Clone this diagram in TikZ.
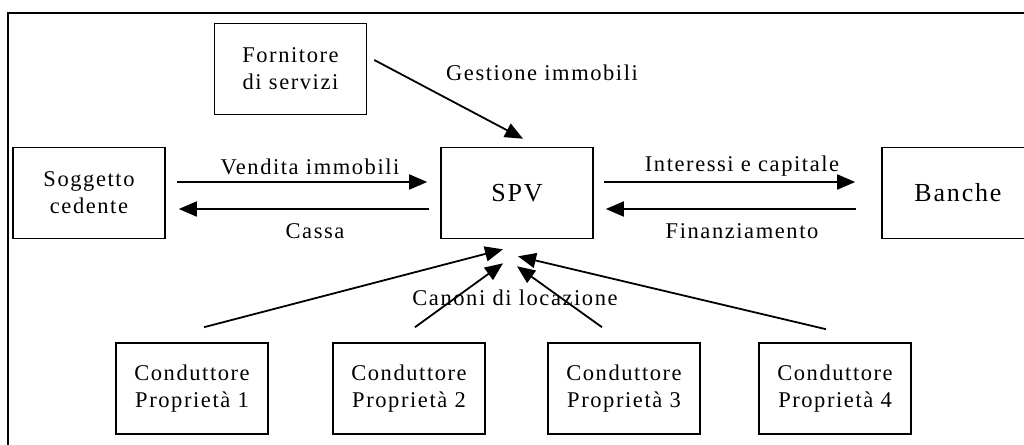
\documentclass[tikz,border=0pt]{standalone}
\usepackage{fontspec}
\setmainfont{Liberation Serif}[LetterSpace=7]
\usetikzlibrary{arrows.meta}

\begin{document}
\begin{tikzpicture}[x=1pt, y=-1pt, box/.style={draw, line width=1.6pt, minimum width=152pt, minimum height=91pt, inner sep=0pt, align=center, font=\fontsize{22.5}{27}\selectfont}, lbl/.style={inner sep=0pt, font=\fontsize{22.5}{27}\selectfont}]
\tikzset{flow/.style = {line width=1.8pt, -{Triangle[width=15pt, length=18pt]}}}
\useasboundingbox (0,0) rectangle (1024,444);
\clip (0,0) rectangle (1024,444);
\draw[line width=1.6pt] (8,13) rectangle (1040,470);
\node[box] (forn) at (290.5,69) {Fornitore\\di servizi};
\node[box] (sogg) at (89,193) {Soggetto\\cedente};
\node[box, font=\fontsize{26}{30}\selectfont] (spv) at (517,193) {SPV};
\node[box, font=\fontsize{26}{30}\selectfont] (banche) at (958,193) {Banche};
\node[box] (cond1) at (192,388.5) {Conduttore\\Proprietà 1};
\node[box] (cond2) at (409,388.5) {Conduttore\\Proprietà 2};
\node[box] (cond3) at (624,388.5) {Conduttore\\Proprietà 3};
\node[box] (cond4) at (835,388.5) {Conduttore\\Proprietà 4};
\node[lbl] (gest) at (542,73) {Gestione immobili};
\node[lbl] (vend) at (310,167) {Vendita immobili};
\node[lbl] (cassa) at (315,231) {Cassa};
\node[lbl] (inter) at (742,166) {Interessi e capitale};
\node[lbl] (finanz) at (742,231) {Finanziamento};
\node[lbl] (canoni) at (515,298) {Canoni di locazione};
\draw[flow] ([xshift=7pt, yshift=9pt]forn.east) -- ([xshift=6pt, yshift=8pt]spv.north);
\draw[flow] ([xshift=11pt, yshift=11pt]sogg.east) -- ([xshift=-13pt, yshift=11pt]spv.west);
\draw[flow] ([xshift=-11pt, yshift=-16pt]spv.west) -- ([xshift=13pt, yshift=-16pt]sogg.east);
\draw[flow] ([xshift=10pt, yshift=11pt]spv.east) -- ([xshift=-26pt, yshift=11pt]banche.west);
\draw[flow] ([xshift=-25pt, yshift=-16pt]banche.west) -- ([xshift=12pt, yshift=-16pt]spv.east);
% canoni
\draw[flow] ([xshift=12pt, yshift=15pt]cond1.north) -- ([xshift=-14pt, yshift=-10pt]spv.south);
\draw[flow] ([xshift=6pt, yshift=15pt]cond2.north) -- ([xshift=-14pt, yshift=-24pt]spv.south);
\draw[flow] ([xshift=-22pt, yshift=15pt]cond3.north) -- ([yshift=-27pt]spv.south);
\draw[flow] ([xshift=-9pt, yshift=13pt]cond4.north) -- ([xshift=1pt, yshift=-17pt]spv.south);
\end{tikzpicture}
\end{document}
